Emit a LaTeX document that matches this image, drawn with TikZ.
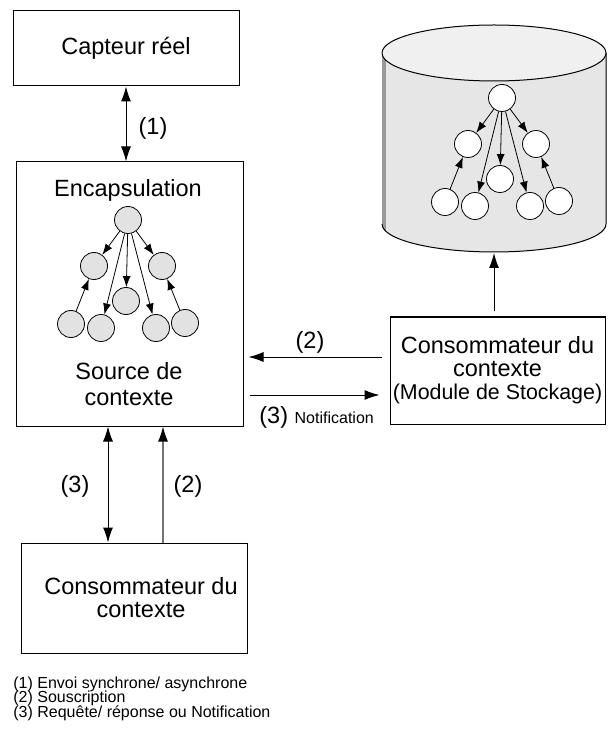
\documentclass[tikz,border=0pt]{standalone}
\usepackage{fontspec}
\setmainfont{Liberation Sans}
\usetikzlibrary{arrows.meta,calc}

\definecolor{grisnoeud}{HTML}{E2E2E2}
\definecolor{griscorps}{HTML}{E6E6E6}
\definecolor{grisdessus}{HTML}{F0F0F0}
\definecolor{grisbord}{HTML}{999999}

\newcommand{\grand}{\fontsize{11.75}{11.5}\selectfont}
\newcommand{\moyen}{\fontsize{10.7}{11.5}\selectfont}
\newcommand{\petit}{\fontsize{8}{8}\selectfont}

\tikzset{
        boite/.style={draw, line width=0.5pt, inner sep=0pt, align=center, font=\grand},
        etiquette/.style={inner sep=0pt, font=\grand},
        noeud/.style={draw, circle, line width=0.4pt, minimum size=13.5pt, inner sep=0pt},
        fleche/.style={line width=0.5pt, -{Latex[length=7.5pt,width=5pt]}},
        doublefleche/.style={line width=0.5pt, {Latex[length=7.5pt,width=5pt]}-{Latex[length=7.5pt,width=5pt]}},
        flechegrise/.style={line width=0.6pt, draw=black!55, -{Latex[length=7.5pt,width=5pt,color=black]}},
        petitefleche/.style={line width=0.4pt, -{Latex[length=5.5pt,width=4pt]}}
}

\newcommand{\arbre}[4]{
        \begin{scope}[shift={(#2,#3)}]
        \node [noeud, fill=#4] (#1r) at (0,0) {};
        \node [noeud, fill=#4] (#1g) at (-34,46) {};
        \node [noeud, fill=#4] (#1d) at (34,46) {};
        \node [noeud, fill=#4] (#1m) at (-2,81) {};
        \node [noeud, fill=#4] (#1f1) at (-57,104) {};
        \node [noeud, fill=#4] (#1f2) at (-27,108) {};
        \node [noeud, fill=#4] (#1f3) at (28,108) {};
        \node [noeud, fill=#4] (#1f4) at (57,103) {};
        \draw [petitefleche] (#1r) to (#1g);
        \draw [petitefleche] (#1r) to (#1d);
        \draw [petitefleche] (#1r) to (#1m);
        \draw [petitefleche] (#1r) to (#1f2);
        \draw [petitefleche] (#1r) to (#1f3);
        \draw [petitefleche] (#1f1) to (#1g);
        \draw [petitefleche] (#1f4) to (#1d);
        \end{scope}
}

\begin{document}
\begin{tikzpicture}[x=0.5pt, y=-0.5pt]
        \useasboundingbox (0,0) rectangle (607,731);

        \fill [griscorps] (382,53) to (382,224) arc [start angle=180, end angle=0, x radius=112, y radius=28] to (606,53) to cycle;
        \begin{scope}
        \clip (382,53) to (382,224) arc [start angle=180, end angle=0, x radius=112, y radius=28] to (606,53) to cycle;
        \fill [grisbord] (380,40) rectangle (386,260);
        \end{scope}
        \draw [line width=0.5pt] (382,224) arc [start angle=180, end angle=0, x radius=112, y radius=28] to (606,53);
        \draw [line width=0.5pt, fill=grisdessus] (494,53) ellipse [x radius=112, y radius=28];
        \coordinate (cylbas) at (494,253);
        \arbre{c}{502}{98}{white}

        \node [boite, minimum width=113pt, minimum height=37.5pt] (capteur) at (126,48.5) {Capteur réel};
        \node [boite, minimum width=113.5pt, minimum height=132pt] (source) at (129.5,294) {};
        \node [etiquette, anchor=base] (encap) at (128,197) {Encapsulation};
        \node [etiquette, align=center, font=\fontsize{11.75}{13}\selectfont] (sourcetexte) at (129,384) {Source de\\contexte};
        \arbre{s}{128}{220}{grisnoeud}

        \node [boite, minimum width=107.5pt, minimum height=53.5pt] (stockage) at (497.5,370.5) {Consommateur du\\contexte\\{\moyen(Module de Stockage)}};
        \node [boite, minimum width=113pt, minimum height=55pt] (conso) at (134,598) {};
        \node [etiquette, align=center] (consotexte) at (141,598) {Consommateur du\\contexte};

        \draw [doublefleche] (capteur.south) to (capteur.south |- source.north);
        \node [etiquette] (l1) at (153,128) {(1)};

        \draw [fleche] ($(stockage.west)+(-8,-13.5)$) to ($(source.east)+(5,63)$);
        \node [etiquette] (l2h) at (310,342) {(2)};
        \draw [fleche] ($(source.east)+(6,101)$) to ($(stockage.west)+(-10,24.5)$);
        \node [etiquette, anchor=base west] (l3h) at (259,423) {(3) {\petit Notification}};

        \draw [fleche] ($(stockage.north)+(-3.5,-5)$) to (cylbas);

        \draw [doublefleche] ($(source.south)+(-21.5,0)$) to ($(source.south |- conso.north)+(-21.5,0)$);
        \draw [flechegrise] ($(source.south |- conso.north)+(33.5,0)$) to ($(source.south)+(33.5,0)$);
        \node [etiquette] (l3v) at (75,486) {(3)};
        \node [etiquette] (l2v) at (188,486) {(2)};

        \node [anchor=base west, inner sep=0pt, font=\petit] (leg1) at (13,688) {(1) Envoi synchrone/ asynchrone};
        \node [anchor=base west, inner sep=0pt, font=\petit] (leg2) at (13,702.5) {(2) Souscription};
        \node [anchor=base west, inner sep=0pt, font=\petit] (leg3) at (13,717) {(3) Requête/ réponse ou Notification};
\end{tikzpicture}
\end{document}
